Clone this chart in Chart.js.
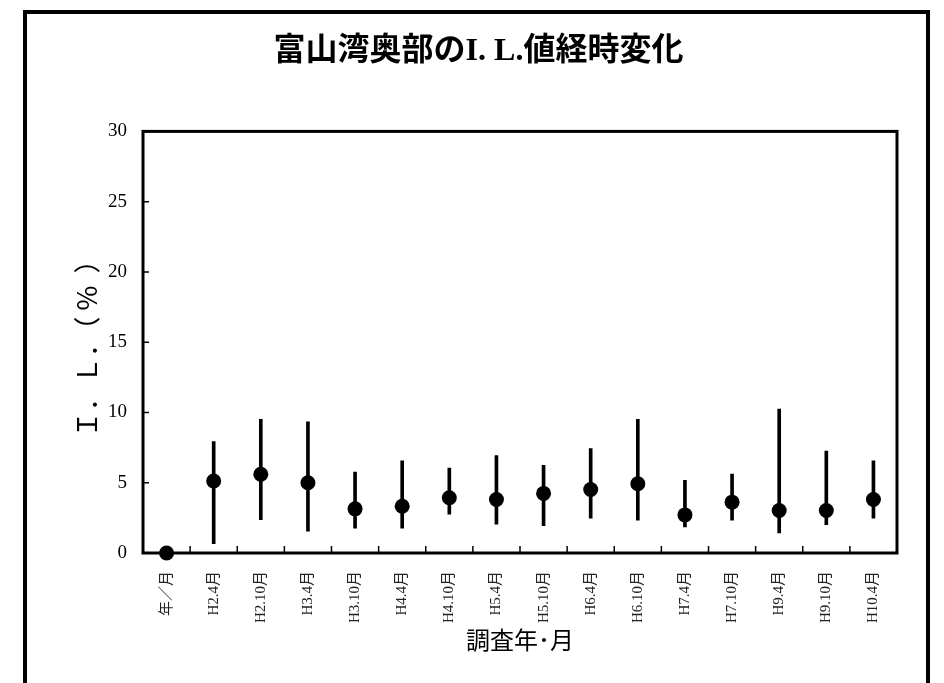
<!DOCTYPE html>
<html lang="ja">
<head>
<meta charset="utf-8">
<title>富山湾奥部のI. L.値経時変化</title>
<script src="https://cdn.jsdelivr.net/npm/chart.js@4.4.1/dist/chart.umd.min.js"></script>
<style>
  html, body { margin: 0; padding: 0; background: #fff; overflow: hidden; }
  #wrap { position: relative; width: 944px; height: 683px; }
  #frame {
    position: absolute; left: 23px; top: 10px; width: 907px; height: 720px;
    border: 4px solid #000; box-sizing: border-box;
  }
  #chart { position: absolute; left: 0; top: 0; }
</style>
</head>
<body>
<div id="wrap">
  <div id="frame"></div>
  <canvas id="chart" width="944" height="683"></canvas>
</div>
<script>
// survey dates (year/month, Heisei era)
const categories = ['年／月', 'H2.4月', 'H2.10月', 'H3.4月', 'H3.10月', 'H4.4月', 'H4.10月', 'H5.4月',
  'H5.10月', 'H6.4月', 'H6.10月', 'H7.4月', 'H7.10月', 'H9.4月', 'H9.10月', 'H10.4月'];
// mean I.L. (%) and the min / max range for each survey
const meanValues = [0, 5.12, 5.6, 5.0, 3.14, 3.33, 3.93, 3.81, 4.24, 4.52, 4.93, 2.71, 3.62, 3.02, 3.02, 3.81];
const maxValues = [null, 7.93, 9.52, 9.33, 5.76, 6.55, 6.05, 6.93, 6.24, 7.43, 9.52, 5.17, 5.62, 10.24, 7.26, 6.55];
const minValues = [null, 0.67, 2.38, 1.55, 1.76, 1.76, 2.76, 2.05, 1.95, 2.48, 2.33, 1.86, 2.33, 1.43, 2.02, 2.48];
const yMin = 0;
const yMax = 30;
const yStep = 5;

const SERIF = "'Liberation Serif', 'Noto Sans CJK JP', serif";

// plot frame plus the short inward tick marks
const frameAndTicks = {
  id: 'frameAndTicks',
  beforeDatasetsDraw(chart) {
    const { ctx, chartArea: a, scales: { x, y } } = chart;
    ctx.save();
    ctx.strokeStyle = '#000';
    ctx.lineWidth = 1.5;
    ctx.beginPath();
    y.ticks.forEach(t => {
      const py = y.getPixelForValue(t.value);
      ctx.moveTo(a.left, py);
      ctx.lineTo(a.left + 6, py);
    });
    for (let i = 1; i < categories.length; i++) {
      const px = (x.getPixelForTick(i - 1) + x.getPixelForTick(i)) / 2;
      ctx.moveTo(px, a.bottom);
      ctx.lineTo(px, a.bottom - 7);
    }
    ctx.stroke();
    ctx.lineWidth = 3;
    ctx.strokeRect(a.left, a.top, a.right - a.left, a.bottom - a.top);
    ctx.restore();
  }
};

const rangeData = minValues.map((lo, i) => (lo === null ? null : [lo, maxValues[i]]));

new Chart(document.getElementById('chart'), {
  data: {
    labels: categories,
    datasets: [
      {
        type: 'line',
        label: '平均',
        data: meanValues,
        showLine: false,
        pointRadius: 7.5,
        pointBackgroundColor: '#000',
        pointBorderWidth: 0,
        clip: false,
        order: 0,
      },
      {
        type: 'bar',
        label: '範囲',
        data: rangeData,
        backgroundColor: '#000',
        barThickness: 3,
        grouped: false,
        order: 1,
      },
    ],
  },
  options: {
    responsive: false,
    animation: false,
    layout: { padding: { left: 60, right: 47, top: 0, bottom: 20 } },
    plugins: {
      legend: { display: false },
      tooltip: { enabled: false },
      title: {
        display: true,
        text: '富山湾奥部のI. L.値経時変化',
        color: '#000',
        font: { family: SERIF, size: 32, weight: 'bold' },
        padding: { top: 33, bottom: 60 },
      },
    },
    scales: {
      x: {
        type: 'category',
        offset: true,
        grid: { display: false },
        border: { display: false },
        ticks: {
          color: '#222',
          font: { family: SERIF, size: 15 },
          minRotation: 90,
          maxRotation: 90,
          autoSkip: false,
          padding: 10,
        },
        title: {
          display: true,
          text: '調査年･月',
          color: '#000',
          font: { family: SERIF, size: 24 },
          padding: { top: 0, bottom: 6 },
        },
        afterFit(scale) { scale.height = 110; },
      },
      y: {
        min: yMin,
        max: yMax,
        grid: { display: false },
        border: { display: false },
        ticks: {
          stepSize: yStep,
          color: '#000',
          font: { family: SERIF, size: 19 },
          padding: 8,
        },
        title: {
          display: true,
          text: 'Ｉ．Ｌ．（ %  ）',
          color: '#000',
          font: { family: "'Noto Sans CJK JP', sans-serif", size: 27 },
          padding: { top: 11, bottom: 0 },
        },
        afterFit(scale) { scale.width = 83; },
      },
    },
  },
  plugins: [frameAndTicks],
});
</script>
</body>
</html>
